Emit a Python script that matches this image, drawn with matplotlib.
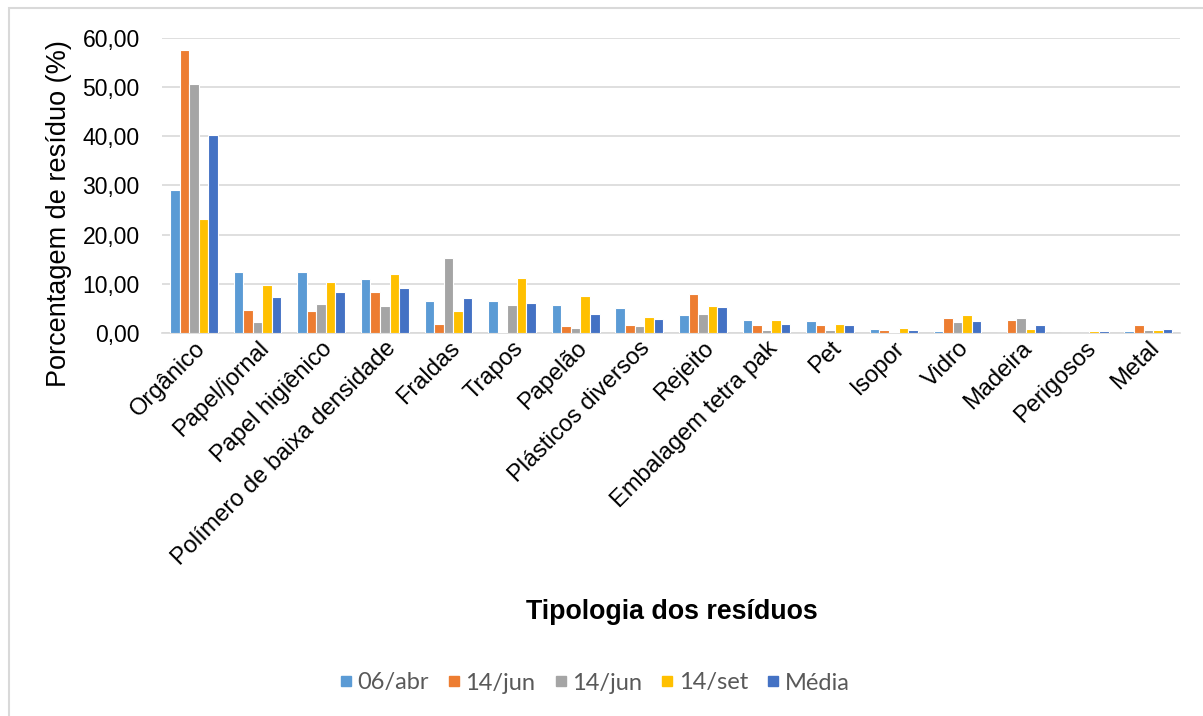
import numpy as np
import matplotlib
matplotlib.use("Agg")
import matplotlib.pyplot as plt
from matplotlib.patches import Rectangle
from matplotlib.lines import Line2D

categorias = ["Orgânico", "Papel/jornal", "Papel higiênico", "Polímero de baixa densidade",
              "Fraldas", "Trapos", "Papelão", "Plásticos diversos", "Rejeito",
              "Embalagem tetra pak", "Pet", "Isopor", "Vidro", "Madeira", "Perigosos", "Metal"]

abr06 = [29.1, 12.4, 12.4, 11.1, 6.6, 6.6, 5.8, 5.1, 3.7, 2.7, 2.4, 0.9, 0.4, 0.0, 0.0, 0.4]
jun14a = [57.5, 4.8, 4.5, 8.4, 1.9, 0.3, 1.4, 1.6, 7.9, 1.6, 1.6, 0.6, 3.2, 2.7, 0.0, 1.6]
jun14b = [50.6, 2.2, 5.9, 5.6, 15.3, 5.8, 1.1, 1.4, 4.0, 0.6, 0.6, 0.3, 2.2, 3.2, 0.0, 0.6]
set14 = [23.1, 9.8, 10.5, 12.1, 4.5, 11.3, 7.6, 3.4, 5.5, 2.7, 1.9, 1.1, 3.8, 0.9, 0.4, 0.6]
media = [40.2, 7.4, 8.4, 9.2, 7.2, 6.1, 4.0, 3.0, 5.3, 1.9, 1.6, 0.6, 2.4, 1.6, 0.4, 0.9]

series = [abr06, jun14a, jun14b, set14, media]
rotulos = ["06/abr", "14/jun", "14/jun", "14/set", "Média"]
cores = ["#5B9BD5", "#ED7D31", "#A5A5A5", "#FFC000", "#4472C4"]

fig = plt.figure(figsize=(12.03, 7.16), dpi=100)
ax = fig.add_axes([0.1347, 0.5345, 0.981 - 0.1347, 0.4131])

# moldura cinza do grafico (estilo Excel)
fig.patches.append(Rectangle((9 / 1203, -0.1), 1.2, 1 - 8 / 716 + 0.1, transform=fig.transFigure,
                             facecolor="none", edgecolor="#D9D9D9", linewidth=1.5))

x = np.arange(len(categorias))
w = 0.15
for i, (vals, lab, cor) in enumerate(zip(series, rotulos, cores)):
    ax.bar(x + (i - 2) * w, vals, w, color=cor, edgecolor="white", linewidth=0.8, label=lab, zorder=3)

ax.set_xlim(-0.5, len(categorias) - 0.5)
ax.set_ylim(0, 60)
ax.set_yticks(np.arange(0, 61, 10))
ax.set_yticklabels([f"{v:.2f}".replace(".", ",") for v in np.arange(0, 61, 10)],
                   fontsize=16.5, family="Liberation Sans")
ax.set_xticks(x)
ax.set_xticklabels(categorias, rotation=45, ha="right", va="top", rotation_mode="anchor",
                   fontsize=17, family="Liberation Sans")
ax.tick_params(axis="both", length=0)
ax.tick_params(axis="y", pad=16)
ax.tick_params(axis="x", pad=3)
ax.grid(axis="y", color="#D9D9D9", linewidth=1.2, zorder=0)
for s in ["top", "right", "left"]:
    ax.spines[s].set_visible(False)
ax.spines["bottom"].set_color("#D9D9D9")
ax.spines["bottom"].set_linewidth(1.2)

fig.text(59 / 1203, 1 - 214 / 716, "Porcentagem de resíduo (%)", fontsize=19.5, family="Liberation Sans",
         rotation=90, ha="center", va="center")
fig.text(672 / 1203, 1 - 612 / 716, "Tipologia dos resíduos", fontsize=19.3, fontweight="bold",
         family="Liberation Sans", ha="center", va="center")

# legenda com marcadores quadrados
handles = [Line2D([], [], marker="s", linestyle="none", markersize=7, color=c) for c in cores]
fig.legend(handles, rotulos, loc="center", bbox_to_anchor=(595 / 1203, 1 - 683 / 716), ncol=5,
           frameon=False, prop={"family": "Lato", "size": 17}, labelcolor="#595959",
           handlelength=0.45, handletextpad=0.25, columnspacing=0.85)

fig.savefig("out.png", dpi=100, facecolor="white")
